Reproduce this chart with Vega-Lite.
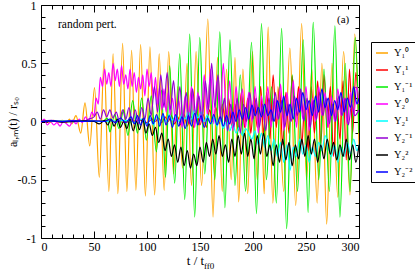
{
"$schema": "https://vega.github.io/schema/vega-lite/v6.json",
"width": 318, "height": 233,
"autosize": {"type": "none"},
"padding": {"left": 41, "top": 5, "right": 56, "bottom": 32},
"config": {
  "view": {"stroke": "black", "strokeWidth": 1},
  "font": "Liberation Serif",
  "axis": {"grid": false, "domain": false, "tickColor": "black", "labelColor": "black", "titleColor": "black", "labelFont": "Liberation Serif", "titleFont": "Liberation Serif", "labelFontSize": 12, "titleFontSize": 13, "titleFontWeight": "normal", "tickWidth": 1}
},
"resolve": {"axis": {"x": "independent", "y": "independent"}},
"layer": [
{
"data": {"values": [
{"s":"a","t":0,"v":0},{"s":"a","t":4,"v":0.01},{"s":"a","t":8,"v":-0.01},{"s":"a","t":12,"v":0.01},{"s":"a","t":16,"v":-0.005},{"s":"a","t":20,"v":0.01},{"s":"a","t":24,"v":-0.01},{"s":"a","t":27,"v":0.02},{"s":"a","t":29,"v":-0.02},{"s":"a","t":33,"v":0.05},{"s":"a","t":37.5,"v":-0.1},{"s":"a","t":41.5,"v":0.16},{"s":"a","t":46,"v":-0.21},{"s":"a","t":50.5,"v":0.29},{"s":"a","t":55,"v":-0.48},{"s":"a","t":59.5,"v":0.53},{"s":"a","t":64,"v":-0.6},{"s":"a","t":68,"v":0.58},{"s":"a","t":72.5,"v":-0.62},{"s":"a","t":77,"v":0.67},{"s":"a","t":81,"v":-0.6},{"s":"a","t":85.5,"v":0.61},{"s":"a","t":89.5,"v":-0.59},{"s":"a","t":94,"v":0.66},{"s":"a","t":98.5,"v":-0.64},{"s":"a","t":102.8,"v":0.64},{"s":"a","t":107.2,"v":-0.63},{"s":"a","t":111.5,"v":0.58},{"s":"a","t":116.2,"v":-0.59},{"s":"a","t":120.5,"v":0.6},{"s":"a","t":125,"v":-0.45},{"s":"a","t":129,"v":0.3},{"s":"a","t":133.5,"v":-0.4},{"s":"a","t":137.8,"v":0.5},{"s":"a","t":142,"v":-0.55},{"s":"a","t":146.3,"v":0.6},{"s":"a","t":151.5,"v":-0.55},{"s":"a","t":157.4,"v":0.88},{"s":"a","t":162.3,"v":-0.82},{"s":"a","t":166.5,"v":0.55},{"s":"a","t":171,"v":-0.6},{"s":"a","t":175,"v":0.45},{"s":"a","t":179.5,"v":-0.5},{"s":"a","t":183,"v":0.55},{"s":"a","t":186.5,"v":-0.69},{"s":"a","t":190.5,"v":0.45},{"s":"a","t":195,"v":-0.62},{"s":"a","t":199.5,"v":0.6},{"s":"a","t":204,"v":-0.5},{"s":"a","t":207.5,"v":0.3},{"s":"a","t":210.5,"v":-0.62},{"s":"a","t":214.3,"v":0.81},{"s":"a","t":218.7,"v":-0.7},{"s":"a","t":223.5,"v":0.3},{"s":"a","t":229,"v":-0.6},{"s":"a","t":234.8,"v":0.63},{"s":"a","t":240.3,"v":-0.72},{"s":"a","t":245.9,"v":0.84},{"s":"a","t":250.5,"v":-0.5},{"s":"a","t":255.5,"v":0.45},{"s":"a","t":260.5,"v":-0.7},{"s":"a","t":265,"v":0.5},{"s":"a","t":269.5,"v":-0.88},{"s":"a","t":274.5,"v":0.5},{"s":"a","t":280,"v":-0.65},{"s":"a","t":285.5,"v":0.6},{"s":"a","t":291.5,"v":-0.63},{"s":"a","t":296,"v":0.75},{"s":"a","t":300,"v":-0.2},

{"s":"b","t":0,"v":0},{"s":"b","t":20,"v":0.005},{"s":"b","t":40,"v":0},{"s":"b","t":60,"v":0.005},{"s":"b","t":80,"v":-0.005},{"s":"b","t":95,"v":0.01},{"s":"b","t":100,"v":-0.01},{"s":"b","t":105,"v":0.02},{"s":"b","t":108,"v":0},{"s":"b","t":111,"v":0.03},{"s":"b","t":114,"v":-0.01},{"s":"b","t":117,"v":0.04},{"s":"b","t":120,"v":0},{"s":"b","t":123,"v":0.05},{"s":"b","t":126,"v":-0.02},{"s":"b","t":129,"v":0.04},{"s":"b","t":132,"v":-0.03},{"s":"b","t":135,"v":0.06},{"s":"b","t":138,"v":-0.04},{"s":"b","t":141,"v":0.05},{"s":"b","t":144,"v":-0.05},{"s":"b","t":147,"v":0.08},{"s":"b","t":150,"v":-0.03},{"s":"b","t":153,"v":0.06},{"s":"b","t":156,"v":-0.05},{"s":"b","t":159,"v":0.1},{"s":"b","t":162,"v":0},{"s":"b","t":165,"v":0.12},{"s":"b","t":168,"v":-0.02},{"s":"b","t":171,"v":0.15},{"s":"b","t":174,"v":0},{"s":"b","t":177,"v":0.2},{"s":"b","t":180,"v":-0.05},{"s":"b","t":183,"v":0.15},{"s":"b","t":186,"v":-0.08},{"s":"b","t":189,"v":0.25},{"s":"b","t":192,"v":-0.05},{"s":"b","t":195,"v":0.2},{"s":"b","t":198,"v":-0.1},{"s":"b","t":201,"v":0.22},{"s":"b","t":204,"v":-0.05},{"s":"b","t":207,"v":0.3},{"s":"b","t":210,"v":-0.1},{"s":"b","t":213,"v":0.25},{"s":"b","t":216,"v":-0.15},{"s":"b","t":219,"v":0.4},{"s":"b","t":222,"v":-0.05},{"s":"b","t":225,"v":0.3},{"s":"b","t":228,"v":-0.2},{"s":"b","t":231,"v":0.25},{"s":"b","t":234,"v":-0.1},{"s":"b","t":237,"v":0.39},{"s":"b","t":240,"v":0},{"s":"b","t":243,"v":0.3},{"s":"b","t":246,"v":-0.2},{"s":"b","t":249,"v":0.2},{"s":"b","t":252,"v":-0.25},{"s":"b","t":255,"v":0.3},{"s":"b","t":258,"v":-0.1},{"s":"b","t":261,"v":0.35},{"s":"b","t":264,"v":-0.2},{"s":"b","t":267,"v":0.4},{"s":"b","t":270,"v":-0.05},{"s":"b","t":273,"v":0.3},{"s":"b","t":276,"v":-0.3},{"s":"b","t":279,"v":0.2},{"s":"b","t":282,"v":-0.15},{"s":"b","t":285,"v":0.35},{"s":"b","t":288,"v":-0.33},{"s":"b","t":291,"v":0.45},{"s":"b","t":294,"v":-0.1},{"s":"b","t":297,"v":0.42},{"s":"b","t":300,"v":0},

{"s":"c","t":0,"v":0},{"s":"c","t":15,"v":0.003},{"s":"c","t":30,"v":-0.003},{"s":"c","t":45,"v":0.004},{"s":"c","t":55,"v":0},{"s":"c","t":60,"v":0.01},{"s":"c","t":62.5,"v":0.03},{"s":"c","t":65,"v":-0.09},{"s":"c","t":69.5,"v":0.06},{"s":"c","t":73.5,"v":-0.06},{"s":"c","t":78,"v":0.1},{"s":"c","t":82,"v":-0.12},{"s":"c","t":86.5,"v":0.18},{"s":"c","t":91,"v":-0.1},{"s":"c","t":95,"v":0.2},{"s":"c","t":99.4,"v":-0.16},{"s":"c","t":104,"v":0.22},{"s":"c","t":108.8,"v":-0.26},{"s":"c","t":113.6,"v":0.27},{"s":"c","t":117.5,"v":-0.48},{"s":"c","t":121.4,"v":0.48},{"s":"c","t":126.1,"v":-0.53},{"s":"c","t":130.9,"v":0.58},{"s":"c","t":135.6,"v":-0.67},{"s":"c","t":140.3,"v":0.75},{"s":"c","t":145,"v":-0.82},{"s":"c","t":149.8,"v":0.72},{"s":"c","t":154.5,"v":-0.45},{"s":"c","t":159.2,"v":0.35},{"s":"c","t":164,"v":-0.5},{"s":"c","t":168.7,"v":0.77},{"s":"c","t":173.5,"v":-0.74},{"s":"c","t":178.3,"v":0.7},{"s":"c","t":183,"v":-0.55},{"s":"c","t":188,"v":0.4},{"s":"c","t":193,"v":-0.6},{"s":"c","t":198.6,"v":0.68},{"s":"c","t":203.3,"v":-0.79},{"s":"c","t":208,"v":0.84},{"s":"c","t":212.7,"v":-0.5},{"s":"c","t":217.5,"v":0.3},{"s":"c","t":222,"v":-0.7},{"s":"c","t":227,"v":0.8},{"s":"c","t":231.7,"v":-0.92},{"s":"c","t":237,"v":0.4},{"s":"c","t":242,"v":-0.6},{"s":"c","t":247.4,"v":0.7},{"s":"c","t":252,"v":-0.78},{"s":"c","t":256.8,"v":0.85},{"s":"c","t":262,"v":-0.5},{"s":"c","t":267,"v":0.45},{"s":"c","t":272,"v":-0.6},{"s":"c","t":277.3,"v":0.82},{"s":"c","t":282,"v":-0.82},{"s":"c","t":287,"v":0.5},{"s":"c","t":291.5,"v":-0.6},{"s":"c","t":296.5,"v":0.72},{"s":"c","t":300,"v":-0.1},

{"s":"d","t":0,"v":-0.01},{"s":"d","t":3,"v":0.02},{"s":"d","t":6,"v":-0.03},{"s":"d","t":9,"v":0},{"s":"d","t":12,"v":-0.03},{"s":"d","t":15,"v":-0.01},{"s":"d","t":18,"v":-0.04},{"s":"d","t":21,"v":0},{"s":"d","t":24,"v":-0.02},{"s":"d","t":27,"v":-0.04},{"s":"d","t":30,"v":0.01},{"s":"d","t":33,"v":-0.02},{"s":"d","t":36,"v":0.02},{"s":"d","t":39,"v":-0.01},{"s":"d","t":42,"v":0.04},{"s":"d","t":45,"v":0},{"s":"d","t":48,"v":0.08},{"s":"d","t":50,"v":0.05},{"s":"d","t":52,"v":0.2},{"s":"d","t":54,"v":0.15},{"s":"d","t":56,"v":0.38},{"s":"d","t":58,"v":0.3},{"s":"d","t":60,"v":0.45},{"s":"d","t":62,"v":0.32},{"s":"d","t":64,"v":0.42},{"s":"d","t":66,"v":0.3},{"s":"d","t":68,"v":0.5},{"s":"d","t":70,"v":0.35},{"s":"d","t":72,"v":0.45},{"s":"d","t":74,"v":0.3},{"s":"d","t":76,"v":0.48},{"s":"d","t":78,"v":0.32},{"s":"d","t":80,"v":0.4},{"s":"d","t":82,"v":0.28},{"s":"d","t":84,"v":0.45},{"s":"d","t":86,"v":0.3},{"s":"d","t":88,"v":0.42},{"s":"d","t":90,"v":0.25},{"s":"d","t":92,"v":0.38},{"s":"d","t":94,"v":0.28},{"s":"d","t":96,"v":0.4},{"s":"d","t":98,"v":0.22},{"s":"d","t":100,"v":0.45},{"s":"d","t":102,"v":0.3},{"s":"d","t":104,"v":0.42},{"s":"d","t":106,"v":0.2},{"s":"d","t":108,"v":0.38},{"s":"d","t":110,"v":0.15},{"s":"d","t":112,"v":0.3},{"s":"d","t":114,"v":0.1},{"s":"d","t":116,"v":0.28},{"s":"d","t":118,"v":0.08},{"s":"d","t":120,"v":0.25},{"s":"d","t":122,"v":0.05},{"s":"d","t":124,"v":0.2},{"s":"d","t":127,"v":0},{"s":"d","t":130,"v":0.18},{"s":"d","t":133,"v":-0.05},{"s":"d","t":136,"v":0.22},{"s":"d","t":139,"v":0.02},{"s":"d","t":142,"v":0.3},{"s":"d","t":145,"v":-0.05},{"s":"d","t":148,"v":0.25},{"s":"d","t":151,"v":0},{"s":"d","t":154,"v":0.4},{"s":"d","t":157,"v":0.05},{"s":"d","t":160,"v":0.45},{"s":"d","t":163,"v":-0.02},{"s":"d","t":166,"v":0.35},{"s":"d","t":169,"v":0.05},{"s":"d","t":172,"v":0.5},{"s":"d","t":175,"v":0},{"s":"d","t":178,"v":0.35},{"s":"d","t":181,"v":-0.08},{"s":"d","t":184,"v":0.3},{"s":"d","t":187,"v":0.02},{"s":"d","t":190,"v":0.28},{"s":"d","t":193,"v":-0.05},{"s":"d","t":196,"v":0.25},{"s":"d","t":199,"v":0},{"s":"d","t":202,"v":0.3},{"s":"d","t":205,"v":-0.1},{"s":"d","t":208,"v":0.22},{"s":"d","t":211,"v":0},{"s":"d","t":214,"v":0.3},{"s":"d","t":217,"v":-0.05},{"s":"d","t":220,"v":0.2},{"s":"d","t":223,"v":0.02},{"s":"d","t":226,"v":0.32},{"s":"d","t":229,"v":-0.08},{"s":"d","t":232,"v":0.25},{"s":"d","t":235,"v":0},{"s":"d","t":238,"v":0.35},{"s":"d","t":241,"v":-0.05},{"s":"d","t":244,"v":0.28},{"s":"d","t":247,"v":0.02},{"s":"d","t":250,"v":0.3},{"s":"d","t":253,"v":-0.08},{"s":"d","t":256,"v":0.2},{"s":"d","t":259,"v":0},{"s":"d","t":262,"v":0.3},{"s":"d","t":265,"v":0.05},{"s":"d","t":268,"v":0.25},{"s":"d","t":271,"v":-0.05},{"s":"d","t":274,"v":0.22},{"s":"d","t":277,"v":0},{"s":"d","t":280,"v":0.28},{"s":"d","t":283,"v":0.05},{"s":"d","t":286,"v":0.2},{"s":"d","t":289,"v":-0.02},{"s":"d","t":292,"v":0.25},{"s":"d","t":295,"v":0.05},{"s":"d","t":298,"v":0.3},{"s":"d","t":300,"v":0.15},

{"s":"e","t":0,"v":0},{"s":"e","t":30,"v":0.005},{"s":"e","t":60,"v":0},{"s":"e","t":80,"v":0.01},{"s":"e","t":90,"v":-0.01},{"s":"e","t":95,"v":0.02},{"s":"e","t":100,"v":-0.02},{"s":"e","t":103,"v":0.03},{"s":"e","t":106,"v":-0.03},{"s":"e","t":109,"v":0.04},{"s":"e","t":112,"v":-0.02},{"s":"e","t":115,"v":0.05},{"s":"e","t":118,"v":0},{"s":"e","t":121,"v":0.06},{"s":"e","t":124,"v":0.01},{"s":"e","t":127,"v":0.05},{"s":"e","t":130,"v":0},{"s":"e","t":133,"v":0.06},{"s":"e","t":136,"v":0.02},{"s":"e","t":139,"v":0.08},{"s":"e","t":142,"v":0.02},{"s":"e","t":145,"v":0.1},{"s":"e","t":148,"v":0.03},{"s":"e","t":151,"v":0.08},{"s":"e","t":154,"v":0},{"s":"e","t":157,"v":0.06},{"s":"e","t":160,"v":-0.02},{"s":"e","t":163,"v":0.04},{"s":"e","t":166,"v":-0.04},{"s":"e","t":169,"v":0.02},{"s":"e","t":172,"v":-0.06},{"s":"e","t":175,"v":0},{"s":"e","t":178,"v":-0.08},{"s":"e","t":181,"v":-0.02},{"s":"e","t":184,"v":-0.1},{"s":"e","t":187,"v":-0.05},{"s":"e","t":190,"v":-0.12},{"s":"e","t":193,"v":-0.06},{"s":"e","t":196,"v":-0.1},{"s":"e","t":199,"v":-0.15},{"s":"e","t":202,"v":-0.08},{"s":"e","t":205,"v":-0.2},{"s":"e","t":208,"v":-0.1},{"s":"e","t":211,"v":-0.22},{"s":"e","t":214,"v":-0.12},{"s":"e","t":217,"v":-0.25},{"s":"e","t":220,"v":-0.15},{"s":"e","t":223,"v":-0.3},{"s":"e","t":226,"v":-0.18},{"s":"e","t":229,"v":-0.35},{"s":"e","t":232,"v":-0.2},{"s":"e","t":235,"v":-0.42},{"s":"e","t":238,"v":-0.22},{"s":"e","t":241,"v":-0.3},{"s":"e","t":244,"v":-0.15},{"s":"e","t":247,"v":-0.28},{"s":"e","t":250,"v":-0.2},{"s":"e","t":253,"v":-0.35},{"s":"e","t":256,"v":-0.22},{"s":"e","t":259,"v":-0.3},{"s":"e","t":262,"v":-0.18},{"s":"e","t":265,"v":-0.25},{"s":"e","t":268,"v":-0.12},{"s":"e","t":271,"v":-0.22},{"s":"e","t":274,"v":-0.3},{"s":"e","t":277,"v":-0.2},{"s":"e","t":280,"v":-0.35},{"s":"e","t":283,"v":-0.22},{"s":"e","t":286,"v":-0.3},{"s":"e","t":289,"v":-0.18},{"s":"e","t":292,"v":-0.28},{"s":"e","t":295,"v":-0.15},{"s":"e","t":298,"v":-0.25},{"s":"e","t":300,"v":-0.2},

{"s":"f","t":0,"v":0},{"s":"f","t":10,"v":0.01},{"s":"f","t":20,"v":-0.005},{"s":"f","t":30,"v":0.01},{"s":"f","t":40,"v":0},{"s":"f","t":45,"v":0.02},{"s":"f","t":50,"v":0.04},{"s":"f","t":53,"v":0.08},{"s":"f","t":56,"v":0.02},{"s":"f","t":59,"v":0.1},{"s":"f","t":62,"v":0.04},{"s":"f","t":65,"v":0.1},{"s":"f","t":68,"v":0.03},{"s":"f","t":71,"v":0.08},{"s":"f","t":74,"v":0},{"s":"f","t":77,"v":0.1},{"s":"f","t":80,"v":0.02},{"s":"f","t":83,"v":0.12},{"s":"f","t":86,"v":0},{"s":"f","t":89,"v":0.1},{"s":"f","t":92,"v":-0.02},{"s":"f","t":95,"v":0.12},{"s":"f","t":98,"v":0.02},{"s":"f","t":101,"v":0.2},{"s":"f","t":104,"v":0.05},{"s":"f","t":107,"v":0.3},{"s":"f","t":110,"v":0.08},{"s":"f","t":113,"v":0.4},{"s":"f","t":116,"v":0.12},{"s":"f","t":119,"v":0.42},{"s":"f","t":122,"v":0.1},{"s":"f","t":125,"v":0.35},{"s":"f","t":128,"v":0.05},{"s":"f","t":131,"v":0.3},{"s":"f","t":134,"v":0},{"s":"f","t":137,"v":0.25},{"s":"f","t":140,"v":-0.02},{"s":"f","t":143,"v":0.28},{"s":"f","t":146,"v":0.05},{"s":"f","t":149,"v":0.22},{"s":"f","t":152,"v":0},{"s":"f","t":155,"v":0.35},{"s":"f","t":158,"v":0.1},{"s":"f","t":161,"v":0.5},{"s":"f","t":164,"v":0.12},{"s":"f","t":167,"v":0.4},{"s":"f","t":170,"v":0},{"s":"f","t":173,"v":0.2},{"s":"f","t":176,"v":-0.08},{"s":"f","t":179,"v":0.15},{"s":"f","t":182,"v":-0.05},{"s":"f","t":185,"v":0.2},{"s":"f","t":188,"v":-0.1},{"s":"f","t":191,"v":0.15},{"s":"f","t":194,"v":0},{"s":"f","t":197,"v":0.25},{"s":"f","t":200,"v":0.02},{"s":"f","t":203,"v":0.2},{"s":"f","t":206,"v":-0.05},{"s":"f","t":209,"v":0.15},{"s":"f","t":212,"v":-0.08},{"s":"f","t":215,"v":0.2},{"s":"f","t":218,"v":0},{"s":"f","t":221,"v":0.25},{"s":"f","t":224,"v":0.02},{"s":"f","t":227,"v":0.18},{"s":"f","t":230,"v":-0.05},{"s":"f","t":233,"v":0.15},{"s":"f","t":236,"v":0},{"s":"f","t":239,"v":0.22},{"s":"f","t":242,"v":0.05},{"s":"f","t":245,"v":0.28},{"s":"f","t":248,"v":0},{"s":"f","t":251,"v":0.2},{"s":"f","t":254,"v":-0.05},{"s":"f","t":257,"v":0.18},{"s":"f","t":260,"v":0.02},{"s":"f","t":263,"v":0.25},{"s":"f","t":266,"v":0.05},{"s":"f","t":269,"v":0.2},{"s":"f","t":272,"v":-0.02},{"s":"f","t":275,"v":0.15},{"s":"f","t":278,"v":0},{"s":"f","t":281,"v":0.22},{"s":"f","t":284,"v":0.05},{"s":"f","t":287,"v":0.2},{"s":"f","t":290,"v":-0.03},{"s":"f","t":293,"v":0.15},{"s":"f","t":296,"v":0.05},{"s":"f","t":300,"v":0.1},

{"s":"g","t":0,"v":0},{"s":"g","t":10,"v":0.005},{"s":"g","t":20,"v":-0.005},{"s":"g","t":30,"v":0},{"s":"g","t":40,"v":0.005},{"s":"g","t":50,"v":0},{"s":"g","t":55,"v":-0.02},{"s":"g","t":60,"v":0.01},{"s":"g","t":63,"v":-0.03},{"s":"g","t":66,"v":0.02},{"s":"g","t":69,"v":-0.04},{"s":"g","t":72,"v":0.02},{"s":"g","t":75,"v":-0.05},{"s":"g","t":78,"v":0},{"s":"g","t":81,"v":-0.06},{"s":"g","t":84,"v":0.02},{"s":"g","t":87,"v":-0.08},{"s":"g","t":90,"v":0},{"s":"g","t":93,"v":-0.07},{"s":"g","t":96,"v":0.02},{"s":"g","t":99,"v":-0.1},{"s":"g","t":102,"v":-0.02},{"s":"g","t":105,"v":-0.12},{"s":"g","t":108,"v":-0.05},{"s":"g","t":111,"v":-0.18},{"s":"g","t":114,"v":-0.1},{"s":"g","t":117,"v":-0.25},{"s":"g","t":120,"v":-0.15},{"s":"g","t":123,"v":-0.3},{"s":"g","t":126,"v":-0.2},{"s":"g","t":129,"v":-0.35},{"s":"g","t":132,"v":-0.22},{"s":"g","t":135,"v":-0.38},{"s":"g","t":138,"v":-0.25},{"s":"g","t":141,"v":-0.4},{"s":"g","t":144,"v":-0.28},{"s":"g","t":147,"v":-0.38},{"s":"g","t":150,"v":-0.22},{"s":"g","t":153,"v":-0.35},{"s":"g","t":156,"v":-0.18},{"s":"g","t":159,"v":-0.3},{"s":"g","t":162,"v":-0.15},{"s":"g","t":165,"v":-0.28},{"s":"g","t":168,"v":-0.12},{"s":"g","t":171,"v":-0.3},{"s":"g","t":174,"v":-0.2},{"s":"g","t":177,"v":-0.35},{"s":"g","t":180,"v":-0.15},{"s":"g","t":183,"v":-0.3},{"s":"g","t":186,"v":-0.12},{"s":"g","t":189,"v":-0.28},{"s":"g","t":192,"v":-0.1},{"s":"g","t":195,"v":-0.3},{"s":"g","t":198,"v":-0.15},{"s":"g","t":201,"v":-0.32},{"s":"g","t":204,"v":-0.12},{"s":"g","t":207,"v":-0.28},{"s":"g","t":210,"v":-0.1},{"s":"g","t":213,"v":-0.3},{"s":"g","t":216,"v":-0.2},{"s":"g","t":219,"v":-0.38},{"s":"g","t":222,"v":-0.2},{"s":"g","t":225,"v":-0.35},{"s":"g","t":228,"v":-0.15},{"s":"g","t":231,"v":-0.33},{"s":"g","t":234,"v":-0.18},{"s":"g","t":237,"v":-0.38},{"s":"g","t":240,"v":-0.2},{"s":"g","t":243,"v":-0.32},{"s":"g","t":246,"v":-0.15},{"s":"g","t":249,"v":-0.3},{"s":"g","t":252,"v":-0.12},{"s":"g","t":255,"v":-0.28},{"s":"g","t":258,"v":-0.15},{"s":"g","t":261,"v":-0.35},{"s":"g","t":264,"v":-0.2},{"s":"g","t":267,"v":-0.32},{"s":"g","t":270,"v":-0.15},{"s":"g","t":273,"v":-0.28},{"s":"g","t":276,"v":-0.18},{"s":"g","t":279,"v":-0.33},{"s":"g","t":282,"v":-0.2},{"s":"g","t":285,"v":-0.3},{"s":"g","t":288,"v":-0.15},{"s":"g","t":291,"v":-0.33},{"s":"g","t":294,"v":-0.2},{"s":"g","t":297,"v":-0.35},{"s":"g","t":300,"v":-0.2},

{"s":"h","t":0,"v":0},{"s":"h","t":10,"v":0.005},{"s":"h","t":20,"v":0},{"s":"h","t":30,"v":0.005},{"s":"h","t":40,"v":0},{"s":"h","t":50,"v":0.005},{"s":"h","t":60,"v":0},{"s":"h","t":65,"v":0.02},{"s":"h","t":70,"v":-0.01},{"s":"h","t":75,"v":0.03},{"s":"h","t":80,"v":-0.01},{"s":"h","t":85,"v":0.04},{"s":"h","t":88,"v":-0.02},{"s":"h","t":91,"v":0.05},{"s":"h","t":94,"v":-0.03},{"s":"h","t":97,"v":0.03},{"s":"h","t":100,"v":-0.04},{"s":"h","t":103,"v":0.05},{"s":"h","t":106,"v":-0.02},{"s":"h","t":109,"v":0.06},{"s":"h","t":112,"v":-0.04},{"s":"h","t":115,"v":0.07},{"s":"h","t":118,"v":-0.03},{"s":"h","t":121,"v":0.05},{"s":"h","t":124,"v":-0.05},{"s":"h","t":127,"v":0.06},{"s":"h","t":130,"v":-0.04},{"s":"h","t":133,"v":0.04},{"s":"h","t":136,"v":-0.06},{"s":"h","t":139,"v":0.05},{"s":"h","t":142,"v":-0.04},{"s":"h","t":145,"v":0.07},{"s":"h","t":148,"v":-0.03},{"s":"h","t":151,"v":0.05},{"s":"h","t":154,"v":-0.05},{"s":"h","t":157,"v":0.03},{"s":"h","t":160,"v":-0.02},{"s":"h","t":163,"v":0.06},{"s":"h","t":166,"v":-0.03},{"s":"h","t":169,"v":0.04},{"s":"h","t":172,"v":-0.04},{"s":"h","t":175,"v":0.05},{"s":"h","t":178,"v":-0.02},{"s":"h","t":181,"v":0.08},{"s":"h","t":184,"v":0},{"s":"h","t":187,"v":0.1},{"s":"h","t":190,"v":0.02},{"s":"h","t":193,"v":0.12},{"s":"h","t":196,"v":0.02},{"s":"h","t":199,"v":0.14},{"s":"h","t":202,"v":0.05},{"s":"h","t":205,"v":0.12},{"s":"h","t":208,"v":0.04},{"s":"h","t":211,"v":0.15},{"s":"h","t":214,"v":0.05},{"s":"h","t":217,"v":0.1},{"s":"h","t":220,"v":0},{"s":"h","t":223,"v":0.18},{"s":"h","t":226,"v":0.08},{"s":"h","t":229,"v":0.22},{"s":"h","t":232,"v":0.05},{"s":"h","t":235,"v":0.15},{"s":"h","t":238,"v":0.02},{"s":"h","t":241,"v":0.2},{"s":"h","t":244,"v":0.08},{"s":"h","t":247,"v":0.25},{"s":"h","t":250,"v":0.1},{"s":"h","t":253,"v":0.18},{"s":"h","t":256,"v":0.05},{"s":"h","t":259,"v":0.22},{"s":"h","t":262,"v":0.08},{"s":"h","t":265,"v":0.28},{"s":"h","t":268,"v":0.12},{"s":"h","t":271,"v":0.2},{"s":"h","t":274,"v":0.05},{"s":"h","t":277,"v":0.18},{"s":"h","t":280,"v":0.1},{"s":"h","t":283,"v":0.25},{"s":"h","t":286,"v":0.08},{"s":"h","t":289,"v":0.2},{"s":"h","t":292,"v":0.12},{"s":"h","t":295,"v":0.3},{"s":"h","t":298,"v":0.15},{"s":"h","t":300,"v":0.2}
]},
"mark": {"type": "line", "strokeWidth": 1.2, "interpolate": "monotone", "clip": true},
"encoding": {
  "x": {"field": "t", "type": "quantitative", "scale": {"domain": [0, 300], "nice": false, "zero": false},
        "axis": {"orient": "bottom", "values": [0,50,100,150,200,250,300], "ticks": false, "labelPadding": 3, "title": "t / t", "titleX": 154, "titleY": 26, "titleAlign": "center", "titleBaseline": "alphabetic"}},
  "y": {"field": "v", "type": "quantitative", "scale": {"domain": [-1, 1], "nice": false, "zero": false},
        "axis": {"orient": "left", "values": [-1,-0.5,0,0.5,1], "ticks": false, "labelPadding": 5, "labelExpr": "'' + datum.value", "title": "aₗ,ₘ(t) / rₛ₀", "titleFontSize": 12, "titleX": -25, "titleBaseline": "alphabetic"}},
  "color": {"field": "s", "type": "nominal",
            "scale": {"domain": ["a","b","c","d","e","f","g","h"], "range": ["#ffa500","#ff0000","#00ee00","#ff00ff","#00ffff","#9400d3","#000000","#0000ff"]},
            "legend": {"orient": "none", "legendX": 330, "legendY": 37, "title": null, "symbolType": "stroke", "symbolSize": 144, "symbolStrokeWidth": 1.5, "labelFont": "Liberation Serif", "labelFontSize": 10.5, "labelColor": "black", "labelOffset": 5, "rowPadding": 4, "padding": 4, "strokeColor": "black", "fillColor": "white", "cornerRadius": 0,
                       "labelExpr": "datum.value=='a'?'Y₁⁰':datum.value=='b'?'Y₁¹':datum.value=='c'?'Y₁⁻¹':datum.value=='d'?'Y₂⁰':datum.value=='e'?'Y₂¹':datum.value=='f'?'Y₂⁻¹':datum.value=='g'?'Y₂²':'Y₂⁻²'"}}
}
},
{
"data": {"values": [{}]},
"mark": {"type": "point", "opacity": 0},
"encoding": {
  "x": {"datum": 0, "type": "quantitative", "scale": {"domain": [0, 300], "nice": false, "zero": false}, "axis": {"orient": "bottom", "values": [0,50,100,150,200,250,300], "labels": false, "tickSize": -7, "title": null}},
  "y": {"datum": 0, "type": "quantitative", "scale": {"domain": [-1, 1], "nice": false, "zero": false}, "axis": {"orient": "left", "values": [-1,-0.5,0,0.5,1], "labels": false, "tickSize": -7, "title": null}}
}
},
{
"data": {"values": [{}]},
"mark": {"type": "point", "opacity": 0},
"encoding": {
  "x": {"datum": 0, "type": "quantitative", "scale": {"domain": [0, 300], "nice": false, "zero": false}, "axis": {"orient": "top", "values": [0,50,100,150,200,250,300], "labels": false, "tickSize": -7, "title": null}},
  "y": {"datum": 0, "type": "quantitative", "scale": {"domain": [-1, 1], "nice": false, "zero": false}, "axis": {"orient": "right", "values": [-1,-0.5,0,0.5,1], "labels": false, "tickSize": -7, "title": null}}
}
},
{
"data": {"values": [{}]},
"mark": {"type": "point", "opacity": 0},
"encoding": {
  "x": {"datum": 0, "type": "quantitative", "scale": {"domain": [0, 300], "nice": false, "zero": false}, "axis": {"orient": "bottom", "values": [10,20,30,40,60,70,80,90,110,120,130,140,160,170,180,190,210,220,230,240,260,270,280,290], "labels": false, "tickSize": -4, "title": null}},
  "y": {"datum": 0, "type": "quantitative", "scale": {"domain": [-1, 1], "nice": false, "zero": false}, "axis": {"orient": "left", "values": [-0.9,-0.8,-0.7,-0.6,-0.4,-0.3,-0.2,-0.1,0.1,0.2,0.3,0.4,0.6,0.7,0.8,0.9], "labels": false, "tickSize": -4, "title": null}}
}
},
{
"data": {"values": [{}]},
"mark": {"type": "point", "opacity": 0},
"encoding": {
  "x": {"datum": 0, "type": "quantitative", "scale": {"domain": [0, 300], "nice": false, "zero": false}, "axis": {"orient": "top", "values": [10,20,30,40,60,70,80,90,110,120,130,140,160,170,180,190,210,220,230,240,260,270,280,290], "labels": false, "tickSize": -4, "title": null}},
  "y": {"datum": 0, "type": "quantitative", "scale": {"domain": [-1, 1], "nice": false, "zero": false}, "axis": {"orient": "right", "values": [-0.9,-0.8,-0.7,-0.6,-0.4,-0.3,-0.2,-0.1,0.1,0.2,0.3,0.4,0.6,0.7,0.8,0.9], "labels": false, "tickSize": -4, "title": null}}
}
},
{
"data": {"values": [{}]},
"mark": {"type": "text", "align": "left", "baseline": "middle", "font": "Liberation Serif", "fontSize": 11.5, "color": "black"},
"encoding": {
  "x": {"datum": 16, "type": "quantitative", "axis": null},
  "y": {"datum": 0.825, "type": "quantitative", "axis": null},
  "text": {"value": "random pert."}
}
},
{
"data": {"values": [{}]},
"mark": {"type": "text", "align": "center", "baseline": "middle", "font": "Liberation Serif", "fontSize": 11, "color": "black"},
"encoding": {
  "x": {"datum": 285, "type": "quantitative", "axis": null},
  "y": {"datum": 0.868, "type": "quantitative", "axis": null},
  "text": {"value": "(a)"}
}
},
{
"data": {"values": [{}]},
"mark": {"type": "text", "align": "left", "baseline": "alphabetic", "font": "Liberation Serif", "fontSize": 9, "color": "black", "dy": 30.5},
"encoding": {
  "x": {"datum": 153.8, "type": "quantitative", "axis": null},
  "y": {"datum": -1, "type": "quantitative", "axis": null},
  "text": {"value": "ff0"}
}
}
]
}
